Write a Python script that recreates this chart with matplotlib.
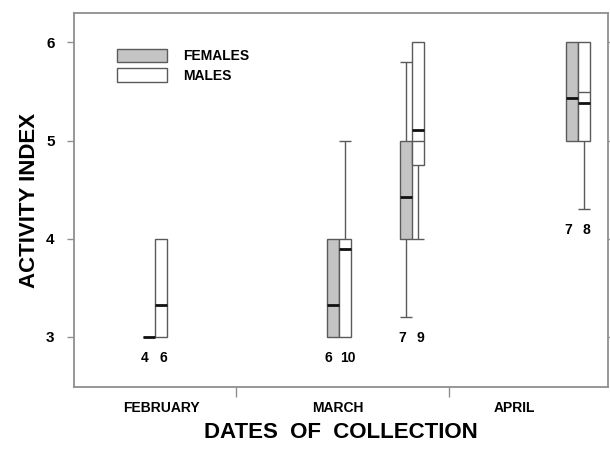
import matplotlib
matplotlib.use("Agg")
import matplotlib.pyplot as plt
from matplotlib.patches import Patch

plt.rcParams["font.family"] = ["Liberation Sans", "DejaVu Sans"]
plt.rcParams["font.weight"] = "bold"

# collection groups (two samples in March)
months = ["FEBRUARY", "MARCH", "APRIL"]
group_x = [81, 265, 338, 504]

# females: quartiles, median, whiskers (None = no whisker)
fem_q1 = [3.0, 3.0, 4.0, 5.0]
fem_q3 = [3.0, 4.0, 5.0, 6.0]
fem_med = [3.0, 3.33, 4.43, 5.43]
fem_lo = [None, None, 3.2, None]
fem_hi = [None, None, 5.8, None]
fem_n = [4, 6, 7, 7]

# males
mal_q1 = [3.0, 3.0, 4.75, 5.0]
mal_q3 = [4.0, 4.0, 6.0, 6.0]
mal_med = [3.33, 3.9, 5.11, 5.38]
mal_thin = [None, None, 5.0, 5.5]
mal_lo = [None, None, 4.0, 4.3]
mal_hi = [None, 5.0, None, None]
mal_n = [6, 10, 9, 8]

BOX_W = 12
EDGE = "#5a5a5a"
FEM_FILL = "#c4c4c4"
SPINE = "#8f8f8f"

fig = plt.figure(figsize=(6.10, 4.57), dpi=100)
ax = fig.add_axes([0.1213, 0.1532, 0.8754, 0.8184])


def draw_sex(offset, q1, q3, med, lo, hi, n, fill, thin=None):
    xs = [g + offset for g in group_x]
    heights = [b - a for a, b in zip(q1, q3)]
    ax.bar(xs, heights, bottom=q1, width=BOX_W, color=fill,
           edgecolor=EDGE, linewidth=1.0, zorder=3)
    for i, x in enumerate(xs):
        ax.hlines(med[i], x - BOX_W / 2, x + BOX_W / 2, color="#111111",
                  linewidth=2.0, zorder=5)
        if thin is not None and thin[i] is not None:
            ax.hlines(thin[i], x - BOX_W / 2, x + BOX_W / 2, color=EDGE,
                      linewidth=1.0, zorder=5)
        if lo[i] is not None:
            ax.vlines(x, lo[i], q1[i], color=EDGE, linewidth=1.0, zorder=2)
            ax.hlines(lo[i], x - 6, x + 6, color=EDGE, linewidth=1.0, zorder=2)
        if hi[i] is not None:
            ax.vlines(x, q3[i], hi[i], color=EDGE, linewidth=1.0, zorder=2)
            ax.hlines(hi[i], x - 6, x + 6, color=EDGE, linewidth=1.0, zorder=2)


draw_sex(-BOX_W / 2, fem_q1, fem_q3, fem_med, fem_lo, fem_hi, fem_n, FEM_FILL)
draw_sex(BOX_W / 2, mal_q1, mal_q3, mal_med, mal_lo, mal_hi, mal_n, "white",
         thin=mal_thin)

# sample sizes below the lowest value of each group
for i, g in enumerate(group_x):
    vals = [fem_q1[i], mal_q1[i]] + [v for v in (fem_lo[i], mal_lo[i]) if v is not None]
    low = min(vals)
    ax.annotate(str(fem_n[i]), (g - BOX_W / 2, low), xytext=(-3, -15),
                textcoords="offset points", ha="center", va="center",
                fontsize=10, fontweight="bold")
    ax.annotate(str(mal_n[i]), (g + BOX_W / 2, low), xytext=(2, -15),
                textcoords="offset points", ha="center", va="center",
                fontsize=10, fontweight="bold")

ax.set_xlim(0, 534)
ax.set_ylim(2.49, 6.30)

ax.set_yticks([3, 4, 5, 6])
ax.set_yticklabels(["3", "4", "5", "6"], fontsize=11, fontweight="bold")
ax.tick_params(axis="y", which="both", direction="out", length=5, width=1,
               color=SPINE, pad=9, right=True)

ax.set_xticks([162, 375])
ax.set_xticklabels([])
ax.set_xticks([87, 264, 440], minor=True)
ax.set_xticklabels(months, minor=True, fontsize=10, fontweight="bold")
ax.tick_params(axis="x", which="major", direction="out", length=7, width=1,
               color=SPINE)
ax.tick_params(axis="x", which="minor", length=0, pad=10)

for s in ax.spines.values():
    s.set_color(SPINE)
    s.set_linewidth(1.3)

ax.set_xlabel("DATES  OF  COLLECTION", fontsize=16, fontweight="bold", labelpad=5)
ax.set_ylabel("ACTIVITY INDEX", fontsize=16, fontweight="bold", labelpad=4)

handles = [Patch(facecolor=FEM_FILL, edgecolor=EDGE, linewidth=1.0, label="FEMALES"),
           Patch(facecolor="white", edgecolor=EDGE, linewidth=1.0, label="MALES")]
ax.legend(handles=handles, loc="upper left", bbox_to_anchor=(0.058, 0.937),
          frameon=False, handlelength=3.6, handleheight=1.1,
          handletextpad=1.1, labelspacing=0.35, prop={"weight": "bold", "size": 10})

fig.savefig("out.png", dpi=100)
